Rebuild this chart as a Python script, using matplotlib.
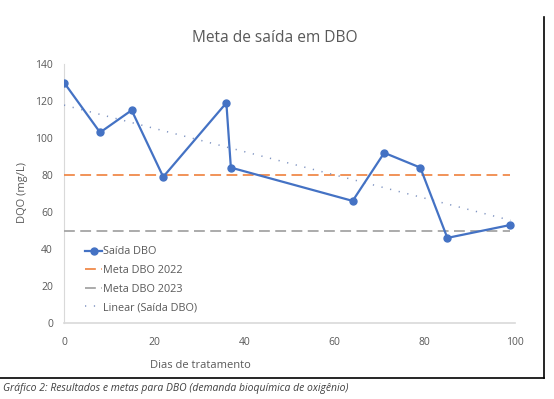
import numpy as np
import matplotlib
matplotlib.use("Agg")
import matplotlib.pyplot as plt
from matplotlib.lines import Line2D

dias = [0, 8, 15, 22, 36, 37, 64, 71, 79, 85, 99]
saida_dbo = [130, 103, 115, 79, 119, 84, 66, 92, 84, 46, 53]
meta_2022 = 80
meta_2023 = 50
title = "Meta de saída em DBO"
xlabel = "Dias de tratamento"
ylabel = "DQO (mg/L)"
caption = "Gráfico 2: Resultados e metas para DBO (demanda bioquímica de oxigênio)"
labels = ["Saída DBO", "Meta DBO 2022", "Meta DBO 2023", "Linear (Saída DBO)"]

plt.rcParams['font.family'] = ['Open Sans', 'DejaVu Sans']

fig = plt.figure(figsize=(5.54, 3.99), dpi=100)
ax = fig.add_axes([64/554, 1-323/399, (515-64)/554, (323-64)/399])

blue = "#4472C4"
orange = "#F08A4B"
gray = "#A5A5A5"
tc = "#595959"

x = np.array(dias, dtype=float)
y = np.array(saida_dbo, dtype=float)
m, b = np.polyfit(x, y, 1)

l1, = ax.plot(x, y, color=blue, lw=1.6, marker="o", ms=5, zorder=5)
l2, = ax.plot(x, [meta_2022]*len(x), color=orange, lw=1.3, dashes=(6, 3), zorder=3)
l3, = ax.plot(x, [meta_2023]*len(x), color=gray, lw=1.3, dashes=(6, 3), zorder=3)
l4, = ax.plot(x, m*x + b, color="#8095C2", lw=1.1, dashes=(0.8, 5), zorder=4)

ax.set_xlim(0, 100)
ax.set_ylim(0, 140)
ax.set_xticks(range(0, 101, 20))
ax.set_yticks(range(0, 141, 20))
for s in ["top", "right"]:
    ax.spines[s].set_visible(False)
ax.spines["left"].set_color("#D9D9D9")
ax.spines["bottom"].set_color("#D9D9D9")
ax.spines["bottom"].set_linewidth(1.2)
ax.tick_params(length=0, labelsize=7.5, colors=tc, pad=8)
ax.tick_params(axis="x", pad=10)

fig.text(275/554, 1-38/399, title, ha="center", va="center", fontsize=11.2, color=tc)
fig.text(22/554, 1-193/399, ylabel, rotation=90, ha="center", va="center", fontsize=8, color=tc)
fig.text(200/554, 1-365/399, xlabel, ha="center", va="center", fontsize=8, color=tc)
fig.text(3/554, 1-388/399, caption, ha="left", va="center", fontsize=7.5, style="italic", color="#404040")

leg = ax.legend([l1, l2, l3, l4], labels, loc="lower left", bbox_to_anchor=(0.025, 0.0),
                frameon=False, fontsize=7.8, labelcolor=tc, handlelength=1.6,
                handletextpad=0.1, labelspacing=0.7)

# figure frame (right and bottom)
fig.add_artist(Line2D([544/554, 544/554], [1-17/399, 1-378/399], color="black", lw=1.2, transform=fig.transFigure))
fig.add_artist(Line2D([0, 544/554], [1-378/399, 1-378/399], color="black", lw=1.2, transform=fig.transFigure))

fig.savefig("out.png", dpi=100)
